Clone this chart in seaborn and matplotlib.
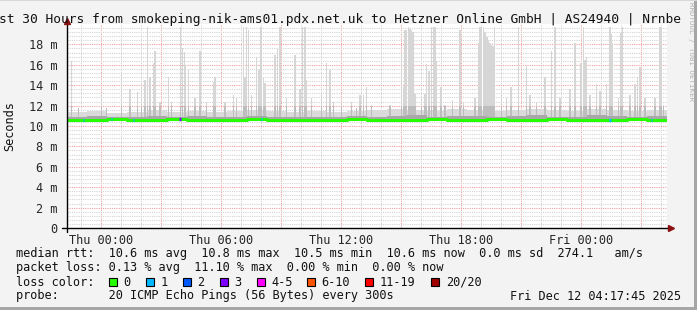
import matplotlib
matplotlib.use("Agg")
import matplotlib.pyplot as plt
import seaborn as sns
import pandas as pd

# ---------------- data (hours counted from the start of the 30 h window) ----------------
spike_hours = [0.23, 0.57, 1.73, 1.98, 2.73, 3.15, 3.53, 3.73, 3.9, 4.03, 4.15, 4.32, 4.4, 4.65,
               5.07, 5.23, 5.68, 5.77, 5.87, 5.93, 6.07, 6.4, 6.65, 6.98, 7.32,
               7.4, 7.9, 8.32, 8.48, 8.82, 8.9, 8.98, 9.07, 9.23, 9.48, 9.6, 9.7, 9.82, 9.9,
               10.4, 10.53, 10.65, 10.98, 11.4, 11.65, 11.77, 11.9, 11.98, 12.23, 12.73, 12.98,
               13.15, 13.32, 13.73, 14.23, 14.48, 14.65, 14.82,
               14.98, 15.23, 16.15, 16.73, 16.82, 16.9, 16.98, 17.07, 17.15, 17.23, 17.3, 17.4,
               17.73, 17.9, 17.98, 18.1, 18.23, 18.32, 18.4, 18.48, 18.7, 18.9, 19.27, 19.65,
               19.82, 20.4, 20.57, 20.65, 20.73, 20.82, 20.9, 21.0, 21.08, 21.15, 21.23, 21.3,
               21.38, 21.72, 21.97, 22.2,
               22.57, 22.98, 23.15, 23.48, 23.9, 24.23, 24.4, 24.65, 25.15, 25.4, 25.7, 25.82,
               25.9, 25.98, 26.15, 26.48, 26.65, 26.98, 27.15, 27.23, 27.27, 27.57, 27.7, 27.77,
               28.15, 28.4, 28.53, 28.65, 28.9, 29.4, 29.65, 29.73, 29.82]
spike_tops = [16.4, 11.8, 13.1, 11.8, 15.1, 13.6, 13.3, 14.2, 14.5, 19.7, 14.8, 16.2, 17.4, 12.4,
              14.8, 12.4, 19.7, 17.6, 17.3, 16.0, 15.5, 12.7, 17.4, 12.4, 14.3,
              14.8, 12.4, 13.0, 12.7, 19.7, 14.8, 19.7, 19.4, 13.0, 16.8, 15.5, 19.7, 14.8, 14.2,
              17.0, 17.5, 19.7, 12.7, 17.0, 13.6, 19.7, 19.7, 14.5, 12.7, 13.3, 16.2,
              15.5, 12.4, 12.4, 12.4, 11.8, 13.0, 13.0,
              13.8, 12.1, 12.1, 17.1, 13.8, 19.4, 19.4, 19.7, 19.5, 19.4, 19.2, 13.1,
              12.7, 13.1, 16.1, 15.4, 19.7, 19.7, 19.7, 16.4, 13.8, 12.1, 12.5, 19.4,
              12.4, 12.7, 18.1, 19.7, 19.7, 19.7, 19.2, 18.7, 18.4, 18.1, 17.9, 17.8,
              19.7, 13.4, 12.7, 13.8,
              19.7, 15.9, 13.0, 12.4, 14.8, 17.4, 19.7, 12.7, 13.6, 18.1, 16.2, 19.7,
              16.5, 16.8, 13.0, 14.1, 13.4, 14.1, 19.7, 19.0, 18.1, 12.7, 19.1, 19.7,
              13.0, 14.1, 14.8, 15.8, 12.7, 12.7, 19.7, 19.7, 12.1]

smoke_hours = list(range(30))
smoke_light_top = [11.4, 11.5, 11.3, 11.4, 11.6, 11.4, 11.5, 11.4, 11.5, 11.6, 11.5, 11.4, 11.5, 11.4, 11.5,
                   11.6, 11.7, 11.6, 11.5, 11.7, 11.6, 11.5, 11.6, 11.7, 11.6, 11.5, 11.7, 11.6, 11.5, 11.6]
smoke_dark_top = [10.9, 11.0, 10.85, 10.9, 11.0, 10.9, 11.0, 10.85, 10.9, 11.0, 10.9, 10.85, 10.9, 10.85, 11.0,
                  10.9, 11.0, 11.05, 10.9, 11.0, 11.0, 10.9, 11.0, 11.05, 10.9, 10.9, 11.05, 11.0, 10.9, 11.0]
smoke_bottom = [10.5] * 30

median_hours = list(range(31))
median_rtt = [10.6, 10.6, 10.65, 10.6, 10.6, 10.65, 10.6, 10.6, 10.6, 10.65, 10.6, 10.6, 10.6, 10.6, 10.65,
              10.6, 10.6, 10.6, 10.65, 10.6, 10.6, 10.65, 10.6, 10.6, 10.65, 10.6, 10.6, 10.6, 10.65, 10.6, 10.6]

loss_hours = [0.82, 2.23, 3.32, 5.65, 9.73, 27.15, 29.23]
loss_levels = [1, 1, 1, 3, 1, 1, 1]

first_midnight = 1.70          # Thu 00:00, hours after window start
tick_labels = ["Thu 00:00", "Thu 06:00", "Thu 12:00", "Thu 18:00", "Fri 00:00"]
y_ticks = [0, 2, 4, 6, 8, 10, 12, 14, 16, 18]
y_tick_labels = ["0", "2 m", "4 m", "6 m", "8 m", "10 m", "12 m", "14 m", "16 m", "18 m"]

loss_legend = ["0", "1", "2", "3", "4-5", "6-10", "11-19", "20/20"]
loss_colors = ["#26ff00", "#00b8ff", "#0059ff", "#7e00ff", "#ff00ff", "#ff5500", "#ff0000", "#a10000"]

title = "st 30 Hours from smokeping-nik-ams01.pdx.net.uk to Hetzner Online GmbH | AS24940 | Nrnbe"
stat_lines = [
    "median rtt:  10.6 ms avg  10.8 ms max  10.5 ms min  10.6 ms now  0.0 ms sd  274.1   am/s",
    "packet loss: 0.13 % avg  11.10 % max  0.00 % min  0.00 % now",
    "loss color:",
    "probe:       20 ICMP Echo Pings (56 Bytes) every 300s",
]
date_text = "Fri Dec 12 04:17:45 2025"

# ---------------- drawing ----------------
sns.set_style("white")
MONO = "DejaVu Sans Mono"
plt.rcParams["font.family"] = [MONO, "DejaVu Sans"]

W, H = 697, 310
BG = "#f3f3f3"
fig = plt.figure(figsize=(W / 100, H / 100), dpi=100, facecolor=BG)


def fx(x):
    return x / W


def fy(y):
    return 1 - y / H


ax = fig.add_axes([fx(67), fy(228), 600 / W, 204 / H])
ax.set_facecolor("white")
ax.set_xlim(0, 30)
ax.set_ylim(0, 20)

# grid
for k in range(-1, 30):
    h = first_midnight + k
    if 0 < h < 30:
        major = (k % 3 == 0)
        ax.axvline(h, color="#f2a0a0" if major else "#d4d4d4", lw=0.8,
                   ls=(0, (1, 1)), zorder=1)
for i in range(1, 50):
    v = i * 0.4
    major = (i % 5 == 0)
    ax.axhline(v, color="#f2a0a0" if major else "#d4d4d4", lw=0.8,
               ls=(0, (1, 1)), zorder=1)

# smoke
spike_base = [median_rtt[int(h)] for h in spike_hours]
ax.bar(smoke_hours, [t - b for t, b in zip(smoke_light_top, smoke_bottom)], bottom=smoke_bottom,
       width=1.0, align="edge", color="#dadada", lw=0, zorder=2)
ax.bar(spike_hours, [t - m for t, m in zip(spike_tops, spike_base)], bottom=spike_base,
       width=5 / 60, align="center", color="#d6d6d6", lw=0, zorder=2)
ax.bar(spike_hours, [min(t, 12.0) - m for t, m in zip(spike_tops, spike_base)], bottom=spike_base,
       width=5 / 60, align="center", color="#bdbdbd", lw=0, zorder=3)
ax.bar(smoke_hours, [t - b for t, b in zip(smoke_dark_top, smoke_bottom)], bottom=smoke_bottom,
       width=1.0, align="edge", color="#a8a8a8", lw=0, zorder=3)

# median line
df = pd.DataFrame({"h": median_hours, "rtt": median_rtt})
sns.lineplot(data=df, x="h", y="rtt", ax=ax, color=loss_colors[0], lw=2.2,
             drawstyle="steps-post", zorder=5)
for h, lv in zip(loss_hours, loss_levels):
    m = median_rtt[int(h)]
    ax.hlines(m, h - 2.5 / 60, h + 2.5 / 60, color=loss_colors[lv], lw=2.4, zorder=6)

# axes decoration
for s in ax.spines.values():
    s.set_visible(False)
ax.set_xlabel("")
ax.set_ylabel("")
ax.set_xticks([first_midnight + 6 * i for i in range(len(tick_labels))])
ax.set_xticklabels(tick_labels, fontsize=8.55, family=MONO)
ax.set_yticks(y_ticks)
ax.set_yticklabels(y_tick_labels, fontsize=8.55, family=MONO)
ax.tick_params(axis="x", length=2, width=0.8, color="#e06060", pad=2, direction="out")
ax.tick_params(axis="y", length=2, width=0.8, color="#404040", pad=5, direction="out")

axis_col = "#000000"
arrow_col = "#8b1010"
ax.plot([-0.25, 30.1], [0, 0], color=axis_col, lw=1.0, clip_on=False, zorder=7)
ax.plot([0, 0], [-0.35, 20.1], color=axis_col, lw=1.0, clip_on=False, zorder=7)
ax.plot([30.2], [0], marker=">", color=arrow_col, ms=4.5, clip_on=False, zorder=8)
ax.plot([0], [20.25], marker="^", color=arrow_col, ms=4.5, clip_on=False, zorder=8)

# texts
fig.text(fx(-1), fy(19), title, ha="left", va="center", fontsize=9.25, family=MONO, color="#111111")
fig.text(fx(10), fy(126), "Seconds", rotation=90, ha="center", va="center", fontsize=8.55,
         family=MONO, color="#111111")
fig.text(fx(691), fy(52), "RRDTOOL / TOBI OETIKER", rotation=270, ha="center", va="center",
         fontsize=5.3, family=MONO, color="#b0b0b0")

line_y = [254, 268, 282, 296]
for s, yy in zip(stat_lines, line_y):
    fig.text(fx(16), fy(yy), s, ha="left", va="center", fontsize=8.55, family=MONO, color="#111111")
fig.text(fx(681), fy(296), date_text, ha="right", va="center", fontsize=8.55, family=MONO,
         color="#111111")

box_x = [108.5, 145.5, 182.5, 219.5, 256.5, 306.5, 365, 431]
for bx, lab, col in zip(box_x, loss_legend, loss_colors):
    fig.patches.append(plt.Rectangle((fx(bx), fy(286)), 8 / W, 8 / H, transform=fig.transFigure,
                                     facecolor=col, edgecolor="black", lw=0.8, figure=fig))
    fig.text(fx(bx + 15), fy(282), lab, ha="left", va="center", fontsize=8.55, family=MONO,
             color="#111111")

# frame shading
fig.patches.append(plt.Rectangle((fx(694), 0), 3 / W, 1, transform=fig.transFigure,
                                 facecolor="#a6a6a6", lw=0, figure=fig))
fig.patches.append(plt.Rectangle((0, 0), 1, 3 / H, transform=fig.transFigure,
                                 facecolor="#a6a6a6", lw=0, figure=fig))
fig.patches.append(plt.Rectangle((0, fy(1)), 1, 1 / H, transform=fig.transFigure,
                                 facecolor="#d8d8d8", lw=0, figure=fig))

fig.savefig("out.png", dpi=100, facecolor=BG)
